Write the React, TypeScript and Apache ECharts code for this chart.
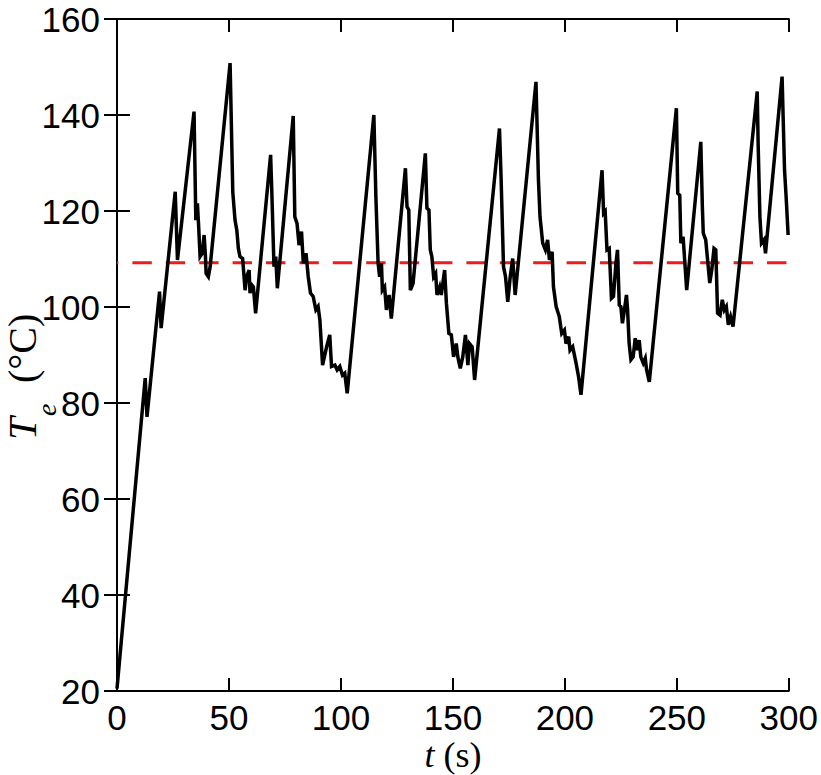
import React, { useEffect, useRef } from "react";
import * as echarts from "echarts";

// Time (s)
const timeValues: number[] = [
  0, 12.6, 13.4, 19.0, 19.7, 26.0, 27.0, 34.4, 35.2, 35.9, 36.4, 37.1, 38.1, 38.9, 39.5, 39.8, 40.8, 41.6,
  50.5, 51.7, 52.7, 53.5, 54.2, 54.9, 56.1, 57.2, 57.9, 59.0, 59.4, 60.2, 60.9, 61.9,
  68.6, 69.2, 70.1, 70.9, 71.6,
  78.7, 79.4, 80.4, 81.3, 82.4, 83.2, 84.4, 85.4, 86.4, 87.6, 88.8, 89.8, 90.6, 91.8, 93.6, 95.0, 95.8, 97.3, 98.3, 99.5, 100.7, 101.7, 102.8,
  114.7, 115.6, 116.6, 117.3, 118.1, 118.5, 119.5, 120.3, 121.5, 122.5,
  128.8, 129.5, 130.3, 131.0, 132.2,
  137.7, 138.4, 139.3, 139.9, 140.6, 141.4, 142.3, 142.9, 144.1, 144.8, 146.3, 147.1, 148.2, 149.3, 150.3, 151.5, 152.2, 153.3, 154.4, 155.6, 156.7, 157.4, 158.6, 159.7,
  170.8, 171.5, 172.6, 173.5, 174.5, 175.6, 176.7, 177.8,
  187.1, 188.2, 188.9, 190.1, 191.3, 192.3, 193.1, 194.3, 194.9, 196.1, 197.5, 198.6, 199.8, 200.5, 201.7, 202.3, 203.5, 205.0, 206.1, 207.2,
  216.6, 217.3, 218.0, 218.8, 219.8, 220.8, 221.7, 222.8, 223.5, 224.3, 225.0, 225.7, 226.6, 227.5, 228.0, 228.7, 229.5, 230.5, 231.4, 232.4, 233.2, 233.9, 235.0, 235.9, 236.5, 237.7,
  249.8, 250.4, 251.3, 251.8, 252.8, 253.7, 254.4,
  260.7, 261.4, 261.8, 262.9, 263.6, 264.7, 265.6, 266.6, 267.4, 268.2, 269.3, 270.3, 271.2, 272.1, 273.0, 274.0, 275.1,
  285.9, 286.3, 287.1, 287.8, 288.9, 289.6,
  297.0, 298.1, 298.8, 299.7,
];

// Temperature T_e (°C)
const tempValues: number[] = [
  20.5, 85.2, 77.1, 103.2, 95.6, 124.0, 109.8, 140.7, 118.1, 121.6, 117.4, 110.5, 111.2, 115.0, 110.5, 107.0, 106.3, 108.4,
  150.8, 124.0, 118.1, 116.0, 112.2, 110.5, 110.1, 103.5, 106.3, 107.7, 102.9, 104.6, 104.2, 98.7,
  131.7, 123.0, 108.4, 110.5, 103.9,
  139.8, 118.8, 117.4, 112.9, 115.7, 109.1, 111.2, 106.3, 102.9, 102.2, 99.4, 100.1, 97.3, 87.9, 91.7, 94.2, 87.6, 87.9, 86.9, 87.6, 85.8, 86.2, 82.0,
  140.0, 123.0, 109.1, 106.3, 109.1, 103.5, 104.2, 99.4, 102.5, 97.6,
  128.9, 120.9, 120.2, 103.5, 104.9,
  132.0, 120.6, 120.2, 111.9, 110.5, 106.3, 107.0, 102.5, 104.2, 102.5, 107.7, 100.8, 94.5, 94.2, 89.6, 92.4, 89.6, 87.2, 89.6, 94.2, 87.9, 92.4, 91.7, 84.8,
  137.2, 127.2, 108.4, 106.3, 101.1, 106.3, 110.1, 102.5,
  146.9, 126.5, 118.8, 113.3, 111.9, 114.0, 109.8, 111.5, 104.2, 100.1, 98.0, 94.5, 95.2, 92.4, 93.8, 91.0, 91.7, 88.3, 85.5, 81.7,
  128.5, 119.5, 119.9, 111.9, 112.2, 101.8, 102.2, 109.1, 111.9, 100.4, 100.1, 96.6, 99.4, 102.5, 99.4, 92.4, 89.0, 89.6, 93.5, 91.0, 93.1, 89.6, 88.3, 89.3, 86.9, 84.4,
  141.4, 123.7, 123.3, 113.3, 114.6, 108.4, 103.5,
  134.4, 120.9, 115.4, 114.0, 110.5, 105.0, 107.7, 112.2, 111.9, 98.7, 98.3, 101.5, 99.4, 100.1, 96.3, 98.0, 95.9,
  144.9, 134.1, 118.8, 113.3, 114.0, 111.2,
  148.0, 128.5, 123.0, 115.0,
];

// Set-point (red dashed)
const setpointTimes: number[] = [0, 300];
const setpointValues: number[] = [109.2, 109.2];

const xTicks = { min: 0, max: 300, interval: 50 };
const yTicks = { min: 20, max: 160, interval: 20 };

export default function App() {
  const ref = useRef<HTMLDivElement>(null);

  useEffect(() => {
    if (!ref.current) return;
    const chart = echarts.init(ref.current, undefined, { renderer: "svg" });

    const mainData = timeValues.map((t, i) => [t, tempValues[i]]);
    const spData = setpointTimes.map((t, i) => [t, setpointValues[i]]);

    const axisLineStyle = { color: "#000", width: 2 };
    const tickStyle = { show: true, inside: true, length: 13, lineStyle: { color: "#000", width: 2 } };
    const labelStyle = {
      color: "#000",
      fontSize: 35,
      fontFamily: "'Liberation Sans', Arial, sans-serif",
    };

    chart.setOption({
      animation: false,
      backgroundColor: "#fff",
      grid: { left: 117, right: 31, top: 19, bottom: 84, containLabel: false },
      xAxis: [
        {
          type: "value",
          position: "bottom",
          ...xTicks,
          axisLine: { show: true, lineStyle: axisLineStyle },
          axisTick: tickStyle,
          axisLabel: { ...labelStyle, margin: 9 },
          splitLine: { show: false },
        },
        {
          type: "value",
          position: "top",
          ...xTicks,
          axisLine: { show: true, lineStyle: axisLineStyle },
          axisTick: tickStyle,
          axisLabel: { show: false },
          splitLine: { show: false },
        },
      ],
      yAxis: [
        {
          type: "value",
          position: "left",
          ...yTicks,
          axisLine: { show: true, lineStyle: axisLineStyle },
          axisTick: tickStyle,
          axisLabel: { ...labelStyle, margin: 17 },
          splitLine: { show: false },
        },
        {
          type: "value",
          position: "right",
          ...yTicks,
          axisLine: { show: true, lineStyle: axisLineStyle },
          axisTick: tickStyle,
          axisLabel: { show: false },
          splitLine: { show: false },
        },
      ],
      series: [
        {
          type: "line",
          data: spData,
          showSymbol: false,
          symbol: "none",
          lineStyle: { color: "#ea1c1c", width: 3, type: [19.4, 14], dashOffset: 18.4 },
          z: 2,
        },
        {
          type: "line",
          data: mainData,
          showSymbol: false,
          symbol: "none",
          lineStyle: { color: "#000", width: 3.5, join: "miter", miterLimit: 4 },
          z: 3,
        },
      ],
      graphic: [
        {
          type: "text",
          x: 453,
          y: 755,
          style: {
            text: "{i|t} (s)",
            fill: "#000",
            font: "36px 'Liberation Serif', 'Times New Roman', serif",
            textAlign: "center",
            textVerticalAlign: "middle",
            rich: {
              i: {
                fontStyle: "italic",
                fontSize: 36,
                fontFamily: "'Liberation Serif', 'Times New Roman', serif",
              },
            },
          },
        },
        {
          type: "group",
          x: 35,
          y: 440,
          rotation: Math.PI / 2,
          children: [
            {
              type: "text",
              x: 0,
              y: -13,
              style: {
                text: "T",
                fill: "#000",
                font: "italic 41px 'Liberation Serif', 'Times New Roman', serif",
                textAlign: "left",
                textVerticalAlign: "middle",
              },
            },
            {
              type: "text",
              x: 24,
              y: 11,
              style: {
                text: "e",
                fill: "#000",
                font: "italic 28px 'Liberation Serif', 'Times New Roman', serif",
                textAlign: "left",
                textVerticalAlign: "middle",
              },
            },
            {
              type: "text",
              x: 57,
              y: -13,
              style: {
                text: "(°C)",
                fill: "#000",
                font: "40px 'Liberation Serif', 'Times New Roman', serif",
                textAlign: "left",
                textVerticalAlign: "middle",
              },
            },
          ],
        },
      ],
    });

    return () => chart.dispose();
  }, []);

  return (
    <div
      ref={ref}
      style={{ position: "fixed", left: 0, top: 0, width: 821, height: 775, background: "#fff" }}
    />
  );
}
